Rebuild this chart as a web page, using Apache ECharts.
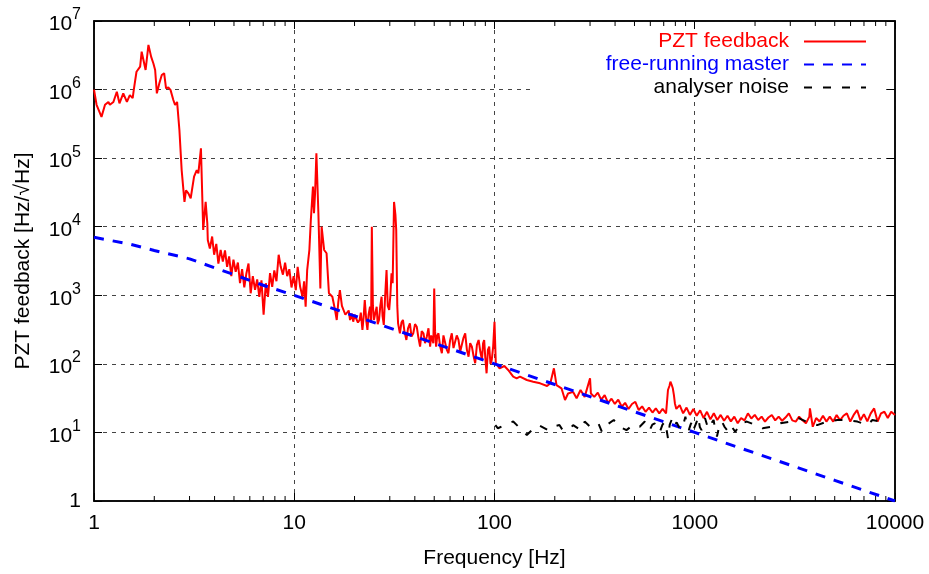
<!DOCTYPE html>
<html>
<head>
<meta charset="utf-8">
<script src="https://cdn.jsdelivr.net/npm/echarts@6/dist/echarts.min.js"></script>
<style>
html, body { margin: 0; padding: 0; background: #fff; }
#main { width: 929px; height: 574px; }
</style>
</head>
<body>
<div id="main"></div>
<script>
// PZT feedback spectrum (three stretches)
var pztLowFreq = [1.00, 1.03, 1.09, 1.135, 1.18, 1.20, 1.25, 1.30, 1.34, 1.40, 1.46, 1.51, 1.56, 1.58, 1.63, 1.70, 1.73, 1.76, 1.81, 1.87,
  1.93, 1.98, 2.02, 2.06, 2.12, 2.18, 2.24, 2.29, 2.35, 2.41, 2.49, 2.54, 2.60, 2.67, 2.74, 2.83, 2.88, 2.96, 3.04, 3.16,
  3.26, 3.32, 3.42, 3.51, 3.61, 3.68];
var pztLowVal = [1.0e6, 6.0e5, 4.0e5, 6.0e5, 6.6e5, 6.0e5, 6.6e5, 9.3e5, 6.3e5, 8.8e5, 6.6e5, 8.3e5, 7.5e5, 9.9e5, 1.82e6, 2.16e6, 3.57e6, 3.78e6, 1.93e6, 4.47e6,
  3.0e6, 2.4e6, 1.93e6, 8.8e5, 1.24e6, 1.63e6, 1.73e6, 1.04e6, 1.07e6, 9.9e5, 7.05e5, 5.96e5, 6.6e5, 2.57e5, 6.7e4, 2.3e4, 3.4e4, 3.07e4, 2.6e4, 5.37e4,
  6.7e4, 6.0e4, 1.39e5, 8960, 2.3e4, 1.12e4];

var pztMidFreq = [3.70, 3.79, 3.89, 3.98, 4.08, 4.18, 4.29, 4.40, 4.51, 4.62, 4.73, 4.85, 4.97, 5.10, 5.23, 5.36, 5.49, 5.63, 5.77, 5.91,
  6.06, 6.21, 6.37, 6.53, 6.69, 6.86, 7.03, 7.21, 7.39, 7.57, 7.76, 7.95, 8.15, 8.36, 8.56, 8.78, 9.00, 9.22, 9.45, 9.69,
  9.93, 10.18, 10.4, 10.7, 11.0, 11.2, 11.4, 11.6, 11.9, 12.1, 12.4, 12.55, 12.7, 12.9, 13.2, 13.5, 13.7, 14.1, 14.5, 14.9,
  15.5, 16.0, 16.3, 16.6, 16.9, 17.3, 17.6, 18.0, 18.3, 18.7, 19.0, 19.4, 19.7, 20.0, 20.4, 20.8, 21.2, 21.5, 21.9, 22.2,
  22.5, 22.9, 23.2, 23.5, 23.9, 24.2, 24.4, 24.7, 25.0, 25.4, 25.8, 26.1, 26.5, 26.9, 27.3, 27.6, 28.0, 28.4, 28.9, 29.3,
  29.8, 30.2, 30.6, 31.0, 31.5, 32.0, 32.3, 32.7, 33.0, 33.4, 33.7, 34.3, 34.9, 35.5, 36.3, 37.0, 37.8, 38.5, 39.3, 40.1,
  40.9, 41.7, 42.5, 43.3, 44.2, 45.0, 45.9, 46.8, 47.7, 48.3, 49.0, 49.5, 50.0, 50.5, 51.1, 51.8, 52.5, 53.5, 54.6, 55.6,
  56.7, 57.8, 58.9, 60.0, 61.2, 62.4, 63.6, 64.8, 66.1, 67.4, 68.7, 70.0, 71.4, 72.8, 74.2, 75.6, 77.1, 78.6, 80.1, 81.7,
  83.3, 85.0, 86.6, 87.7, 88.8, 90.0, 91.3, 92.7, 94.1, 95.5, 96.9, 98.5, 100, 101.5];
var pztMidVal = [6400, 4800, 7200, 3900, 5600, 2900, 4600, 3100, 4500, 2600, 3700, 1900, 3300, 2200, 3000, 1500, 2400, 1300, 2100, 2900,
  1070, 1900, 1200, 1700, 950, 1650, 520, 1500, 950, 2100, 1330, 2300, 1600, 3900, 2600, 2000, 3000, 1900, 2400, 1300,
  1900, 1190, 2600, 1330, 950, 1600, 680, 2300, 4600, 1.25e4, 3.84e4, 1.57e4, 3.0e4, 1.18e5, 1.57e4, 1260, 1.0e4, 4580, 4100, 1070,
  953, 600, 436, 800, 1190, 700, 682, 520, 488, 600, 436, 540, 412, 520, 546, 400, 436, 560, 312, 480,
  853, 420, 312, 520, 682, 400, 1.0e4, 700, 436, 550, 682, 380, 436, 700, 953, 500, 369, 900, 2340, 700,
  611, 1000, 2090, 1500, 2.3e4, 1.5e4, 8960, 700, 390, 320, 279, 400, 436, 300, 223, 330, 390, 250, 279, 380,
  348, 240, 178, 300, 279, 200, 249, 330, 178, 260, 249, 200, 1260, 300, 178, 260, 279, 180, 143, 260,
  249, 160, 143, 220, 279, 170, 159, 260, 223, 150, 143, 240, 279, 160, 127, 200, 178, 130, 102, 190,
  223, 150, 114, 200, 223, 120, 72.8, 160, 178, 100, 114, 180, 412, 102];

var pztHighFreq = [106, 112, 117, 124, 129, 134, 145, 156, 169, 183, 190, 198, 204, 216, 225, 233, 247, 257, 269, 282,
  300, 303, 315, 328, 341, 355, 369, 384, 399, 415, 432, 449, 467, 486, 505, 525, 546, 568, 591, 615,
  639, 665, 691, 719, 735, 748, 756, 766, 777, 787, 796, 809, 841, 875, 910, 946, 984, 1023, 1064, 1107,
  1151, 1197, 1245, 1295, 1347, 1401, 1457, 1515, 1576, 1639, 1704, 1772, 1843, 1917, 1994, 2074, 2157, 2243, 2333, 2426,
  2523, 2624, 2729, 2838, 2952, 3070, 3193, 3320, 3453, 3591, 3735, 3760, 3884, 4039, 4201, 4369, 4544, 4725, 4914, 5111,
  5315, 5528, 5749, 5979, 6218, 6467, 6726, 6995, 7274, 7565, 7868, 8183, 8510, 8850, 9204, 9572, 10000];
var pztHighVal = [86, 93, 81.5, 65, 61.5, 65, 58.2, 55, 52, 47.5, 52, 86, 49, 44, 29.7, 37, 39, 31.5, 41.6, 33,
  61.5, 37, 33, 38, 30, 35, 27, 31, 26, 30, 23.7, 27, 22, 26, 28, 21.2, 24, 20, 23, 19.5,
  22.5, 19, 22, 19, 41.6, 48, 55, 50, 44, 35, 26.5, 22, 25, 19, 23, 18, 22, 17.5, 21, 16.2,
  20, 15.5, 19, 15.2, 18, 14.8, 17.5, 14.5, 17, 13.6, 16.2, 15, 19, 16, 18, 15.2, 17, 14.4, 16.5, 18,
  15, 17, 14.8, 16.5, 19, 15, 14.4, 17, 15, 13.6, 17, 22.4, 12.1, 16.2, 14.4, 17.5, 14.4, 17, 14.4, 18,
  15, 17.5, 19, 14.4, 18, 21.2, 15, 18.5, 14.5, 19, 22.4, 14.4, 19, 20, 16.2, 20, 18];

// free-running master
var masterFreq = [1, 1.5, 2, 3, 5, 7, 10, 20, 50, 100, 200, 500, 1000, 2000, 5000, 10000];
var masterVal = [7000, 5600, 4500, 3400, 2000, 1400, 1000, 500, 200, 100, 50, 20, 10, 5, 2, 1];

// analyser noise
var noiseFreq = [101, 104, 117, 124, 145, 160, 166, 185, 193, 211, 219, 239, 247, 269, 282, 300, 330, 344, 363, 394,
  420, 456, 491, 531, 563, 596, 614, 632, 650, 670, 690, 711, 723, 735, 750, 766, 781, 796, 812, 829,
  846, 864, 880, 898, 916, 934, 953, 972, 986, 1000, 1020, 1040, 1060, 1081, 1100, 1125, 1160, 1195, 1220, 1242,
  1265, 1291, 1330, 1367, 1410, 1450, 1490, 1530, 1595, 1690, 1820, 2020, 2180, 2410, 2680, 3000, 3300, 3600, 4090, 4590,
  5150, 5780, 6490, 7280, 7710, 8480, 8900];
var noiseVal = [12.8, 11.5, 13.6, 14.4, 9.2, 12.1, 12.8, 10.8, 12.1, 12.8, 10.8, 11.5, 12.8, 10.8, 14.4, 12.1, 13.6, 10.2, 12.8, 15.2,
  12.1, 10.8, 12.8, 12.1, 14.4, 10.8, 13, 13.6, 11, 10.2, 13, 14.4, 11, 8.2, 13, 15.2, 12, 11.5, 14, 14.4,
  11, 10.8, 13.5, 17, 12, 10.8, 13, 14.4, 11, 11.5, 14, 17, 12, 10.8, 13, 16.2, 12, 11.5, 14, 15.2,
  11, 8.7, 13, 14.4, 12, 10.8, 13, 12.1, 10.2, 13.6, 14.4, 12.8, 11.5, 12.1, 13.6, 14.4, 16.2, 14.4, 12.8, 14.4,
  15.2, 15.2, 14.4, 12.8, 15.2, 14.4, 13.6];

// axis ticks
var xMin = 1, xMax = 10000;
var yMin = 1, yMax = 1e7;
var minorTicks = [2, 3, 4, 5, 6, 7, 8, 9, 20, 30, 40, 50, 60, 70, 80, 90,
  200, 300, 400, 500, 600, 700, 800, 900, 2000, 3000, 4000, 5000, 6000, 7000, 8000, 9000];

function pairs(xs, ys) {
  return xs.map(function (x, i) { return [x, ys[i]]; });
}

var pztData = pairs(pztLowFreq, pztLowVal)
  .concat(pairs(pztMidFreq, pztMidVal))
  .concat(pairs(pztHighFreq, pztHighVal));

var font = "'Liberation Sans', Arial, sans-serif";
var gridDash = { color: '#444', width: 1, type: [4, 5] };

function keyLegend(name, top, color) {
  return {
    data: [name], right: 62, top: top, padding: 0, z: 10,
    align: 'right', itemWidth: 62, itemHeight: 14,
    itemStyle: { opacity: 0 },
    textStyle: { fontFamily: font, fontSize: 21, color: color, padding: [0, 10, 0, 0] }
  };
}

var chart = echarts.init(document.getElementById('main'));

var option = {
  animation: false,
  backgroundColor: '#fff',
  textStyle: { fontFamily: font, fontSize: 21, color: '#000' },
  grid: { left: 94, right: 34, top: 21, bottom: 73, show: true, borderColor: '#000', borderWidth: 1.5 },
  xAxis: [{
    type: 'log', logBase: 10, min: xMin, max: xMax,
    name: 'Frequency [Hz]', nameLocation: 'middle', nameGap: 47,
    nameTextStyle: { fontFamily: font, fontSize: 21, color: '#000' },
    axisLine: { lineStyle: { color: '#000', width: 1.5 } },
    axisTick: { inside: true, length: 8, lineStyle: { color: '#000' } },
    axisLabel: {
      fontFamily: font, fontSize: 21, color: '#000', margin: 12,
      formatter: function (v) { return String(Math.round(v)); }
    },
    splitLine: { show: true, lineStyle: gridDash }
  }, {
    type: 'log', logBase: 10, min: xMin, max: xMax, position: 'top',
    axisLine: { lineStyle: { color: '#000', width: 1.5 } },
    axisTick: { inside: true, length: 8, lineStyle: { color: '#000' } },
    axisLabel: { show: false },
    splitLine: { show: false }
  }],
  yAxis: [{
    type: 'log', logBase: 10, min: yMin, max: yMax,
    name: 'PZT feedback [Hz/\u221AHz]', nameLocation: 'middle', nameGap: 60,
    nameTextStyle: { fontFamily: font, fontSize: 21, color: '#000' },
    axisLine: { lineStyle: { color: '#000', width: 1.5 } },
    axisTick: { inside: true, length: 8, lineStyle: { color: '#000' } },
    axisLabel: {
      fontFamily: font, fontSize: 21, color: '#000', margin: 13,
      formatter: function (v) {
        var e = Math.round(Math.log10(v));
        if (e === 0) return '1';
        return '{b|10}{s|' + e + '}';
      },
      rich: {
        b: { fontFamily: font, fontSize: 21, lineHeight: 28, verticalAlign: 'bottom', color: '#000' },
        s: { fontFamily: font, fontSize: 16, lineHeight: 14, verticalAlign: 'top', color: '#000' }
      }
    },
    splitLine: { show: true, lineStyle: gridDash }
  }, {
    type: 'log', logBase: 10, min: yMin, max: yMax, position: 'right',
    axisLine: { lineStyle: { color: '#000', width: 1.5 } },
    axisTick: { inside: true, length: 8, lineStyle: { color: '#000' } },
    axisLabel: { show: false },
    splitLine: { show: false }
  }],
  legend: [
    keyLegend('PZT feedback', 31, '#ff0000'),
    keyLegend('free-running master', 54, '#0000ff'),
    keyLegend('analyser noise', 77, '#000')
  ],
  graphic: [{
    type: 'rect', left: 530, top: 29, z: 5, silent: true,
    shape: { width: 352, height: 71 },
    style: { fill: '#fff' }
  }],
  series: [{
    name: 'PZT feedback', type: 'line', symbol: 'none',
    data: pztData,
    lineStyle: { color: '#ff0000', width: 2 },
    itemStyle: { color: '#ff0000' }
  }, {
    name: 'free-running master', type: 'line', symbol: 'none',
    data: pairs(masterFreq, masterVal),
    lineStyle: { color: '#0000ff', width: 3, type: [10, 9] },
    itemStyle: { color: '#0000ff' }
  }, {
    name: 'analyser noise', type: 'line', symbol: 'none',
    data: pairs(noiseFreq, noiseVal),
    lineStyle: { color: '#000', width: 2, type: [8, 11] },
    itemStyle: { color: '#000' }
  }, {
    name: 'minor ticks', type: 'custom', silent: true,
    data: minorTicks.map(function (f) { return [f, yMin]; }),
    renderItem: function (params, api) {
      var b = api.coord([api.value(0), yMin]);
      var t = api.coord([api.value(0), yMax]);
      return {
        type: 'group',
        children: [
          { type: 'line', shape: { x1: b[0], y1: b[1], x2: b[0], y2: b[1] - 5 }, style: { stroke: '#000', lineWidth: 1 } },
          { type: 'line', shape: { x1: t[0], y1: t[1], x2: t[0], y2: t[1] + 5 }, style: { stroke: '#000', lineWidth: 1 } }
        ]
      };
    }
  }]
};

chart.setOption(option);
</script>
</body>
</html>
